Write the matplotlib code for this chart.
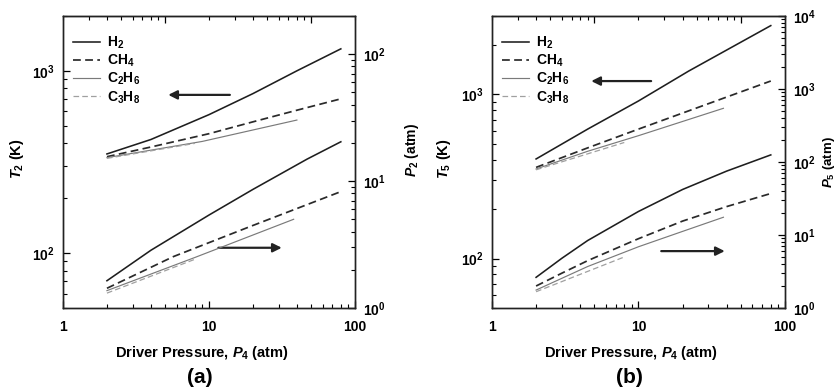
import matplotlib
matplotlib.use('Agg')
import matplotlib.pyplot as plt
from matplotlib.ticker import NullFormatter

plt.rcParams['font.family'] = ['Liberation Sans', 'DejaVu Sans']
plt.rcParams['font.weight'] = 'bold'
plt.rcParams['axes.labelweight'] = 'bold'
plt.rcParams['mathtext.fontset'] = 'custom'
plt.rcParams['mathtext.rm'] = 'Liberation Sans:bold'
plt.rcParams['mathtext.bf'] = 'Liberation Sans:bold'
plt.rcParams['mathtext.it'] = 'Liberation Sans:italic:bold'

species = ['H$_2$', 'CH$_4$', 'C$_2$H$_6$', 'C$_3$H$_8$']

# (a) incident shock: T2 (left axis), P2 (right axis) vs driver pressure P4
t2_p4 = [[2, 4, 10, 20, 40, 80], [2, 4, 10, 20, 40, 80], [2, 9, 40], [2, 8]]
t2_val = [[350, 420, 575, 750, 1000, 1320], [338, 382, 452, 525, 608, 702], [334, 410, 537], [331, 400]]
p2_p4 = [[2, 4, 10, 20, 47, 80], [2, 5.7, 19, 80], [2, 8, 38], [2, 8]]
p2_val = [[1.64, 2.85, 5.4, 8.6, 14.9, 20.4], [1.43, 2.54, 4.37, 8.26], [1.37, 2.5, 5.0], [1.31, 2.42]]

# (b) reflected shock: T5 (left axis), P5 (right axis)
t5_p4 = [[2, 4.5, 10, 22, 80], [2, 4.5, 10, 22, 80], [2, 4.5, 10, 38], [2, 8]]
t5_val = [[404, 614, 911, 1385, 2620], [359, 472, 614, 793, 1205], [351, 450, 560, 822], [347, 509]]
p5_p4 = [[2, 3, 4.5, 10, 20, 40, 80], [2, 3, 4.5, 10, 20, 40, 80], [2, 4.5, 10, 20, 38], [2, 8]]
p5_val = [[2.63, 4.8, 8.4, 21, 42, 75, 125], [2.0, 3.0, 4.45, 8.9, 15.5, 24.5, 37],
          [1.76, 3.7, 6.9, 11.2, 17.5], [1.67, 5.0]]

colors = ['#1e1e1e', '#2a2a2a', '#7a7a7a', '#a0a0a0']
styles = ['-', '--', '-', '--']
widths = [1.15, 1.25, 0.85, 0.9]

fig = plt.figure(figsize=(8.4, 3.92), dpi=100)


def style_axis(ax):
    for s in ax.spines.values():
        s.set_linewidth(1.0)
        s.set_color('#222222')
    ax.tick_params(which='major', direction='in', length=5, width=0.9, labelsize=10, pad=6)
    ax.tick_params(which='minor', direction='in', length=3, width=0.8)
    ax.yaxis.set_minor_formatter(NullFormatter())


def panel(rect, tp4, tval, pp4, pval, tlim, plim, tlabel, plabel, tag, arrows,
          tlab_x, plab_x, plab_y, plab_size):
    ax = fig.add_axes(rect)
    ax.set_xscale('log')
    ax.set_yscale('log')
    ax.set_xlim(1, 100)
    ax.set_ylim(*tlim)
    ax2 = ax.twinx()
    ax2.set_yscale('log')
    ax2.set_ylim(*plim)

    for i in range(4):
        dash = (4.5, 2.5) if styles[i] == '--' else (None, None)
        ax.plot(tp4[i], tval[i], linestyle=styles[i], color=colors[i], lw=widths[i],
                dashes=dash, label=species[i])
        ax2.plot(pp4[i], pval[i], linestyle=styles[i], color=colors[i], lw=widths[i],
                 dashes=dash)

    # top ticks come from a shifted log axis (2-200) in the original
    sec = ax.secondary_xaxis('top', functions=(lambda x: 2 * x, lambda x: x / 2))
    sec.tick_params(which='both', direction='in', labeltop=False)
    sec.tick_params(which='major', length=5, width=0.9)
    sec.tick_params(which='minor', length=3, width=0.8)

    style_axis(ax)
    style_axis(ax2)
    ax.tick_params(axis='x', which='both', top=False)
    ax.tick_params(axis='x', which='major', pad=9)
    ax.set_xticks([1, 10, 100])
    ax.set_xticklabels(['1', '10', '100'])

    ax.set_ylabel(tlabel, fontsize=10.5)
    ax.yaxis.set_label_coords(tlab_x, 0.51)
    ax2.set_ylabel(plabel, fontsize=plab_size)
    ax2.yaxis.set_label_coords(plab_x, plab_y)
    ax.set_xlabel('Driver Pressure, $P_4$ (atm)', fontsize=10.5)
    ax.xaxis.set_label_coords(0.475, -0.122)

    for (x0, x1, y) in arrows:
        ax.annotate('', xy=(x1, y), xytext=(x0, y),
                    arrowprops=dict(arrowstyle='-|>', color='#222222', lw=1.6,
                                    mutation_scale=13, shrinkA=0, shrinkB=0))

    ax.legend(loc='upper left', bbox_to_anchor=(0.035, 0.935), frameon=False,
              prop={'size': 10, 'weight': 'bold'}, handlelength=1.9, handletextpad=0.5,
              labelspacing=0.12, borderpad=0, borderaxespad=0)
    cx = rect[0] + rect[2] * 0.47
    fig.text(cx, 0.036, tag, ha='center', va='center', fontsize=15, fontweight='bold')
    return ax


panel([0.075, 0.2143, 0.3476, 0.745], t2_p4, t2_val, p2_p4, p2_val, (50, 2000), (1, 200),
      '$T_2$ (K)', '$P_2$ (atm)', '(a)',
      [(13.9, 5.26, 738), (11.6, 31.5, 107)], -0.127, 1.165, 0.54, 10)
panel([0.5857, 0.2143, 0.3488, 0.745], t5_p4, t5_val, p5_p4, p5_val, (50, 3000), (1, 1e4),
      '$T_5$ (K)', '$P_5$ (atm)', '(b)',
      [(12.2, 4.76, 1204), (14.3, 38.8, 111)], -0.133, 1.124, 0.5, 9.5)

fig.savefig('out.png', dpi=100)
